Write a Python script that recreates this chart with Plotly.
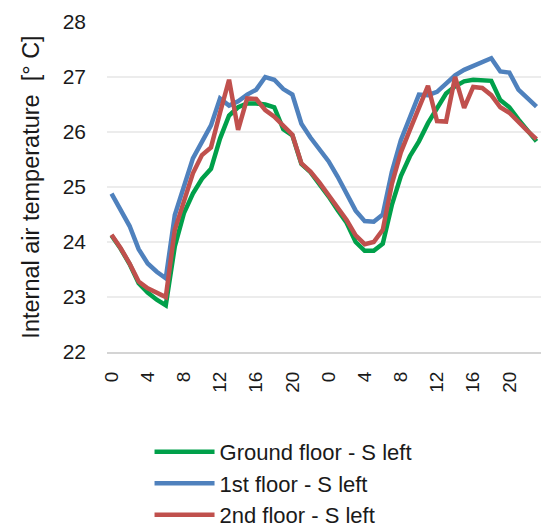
import plotly.graph_objects as go

# Hour of day for two consecutive days (hourly readings)
hours = list(range(24)) * 2

# Internal air temperature [°C] per floor, south-left zone
ground_floor = [24.12, 23.88, 23.60, 23.25, 23.08, 22.95, 22.85, 23.92, 24.52, 24.88,
                25.15, 25.33, 25.88, 26.30, 26.45, 26.52, 26.52, 26.50, 26.45, 26.05,
                25.94, 25.42, 25.27, 25.06, 24.83, 24.58, 24.35, 24.00, 23.84, 23.84,
                23.97, 24.67, 25.20, 25.56, 25.83, 26.16, 26.45, 26.70, 26.83, 26.92,
                26.95, 26.95, 26.93, 26.58, 26.45, 26.23, 26.04, 25.83]
first_floor = [24.88, 24.59, 24.29, 23.87, 23.61, 23.46, 23.34, 24.49, 25.04, 25.52,
               25.82, 26.12, 26.61, 26.48, 26.56, 26.68, 26.77, 27.00, 26.95, 26.78,
               26.68, 26.15, 25.90, 25.70, 25.47, 25.19, 24.87, 24.57, 24.38, 24.37,
               24.50, 25.27, 25.85, 26.25, 26.68, 26.67, 26.73, 26.88, 27.03, 27.13,
               27.20, 27.27, 27.34, 27.10, 27.08, 26.77, 26.62, 26.46]
second_floor = [24.13, 23.89, 23.61, 23.28, 23.16, 23.09, 23.00, 24.22, 24.76, 25.25,
                25.58, 25.72, 26.35, 26.95, 26.04, 26.61, 26.60, 26.40, 26.28, 26.10,
                25.95, 25.43, 25.28, 25.08, 24.85, 24.62, 24.40, 24.12, 23.96, 24.00,
                24.22, 25.05, 25.63, 26.04, 26.43, 26.84, 26.20, 26.19, 27.00, 26.44,
                26.82, 26.80, 26.67, 26.45, 26.35, 26.18, 26.02, 25.87]

series_names = ["Ground floor - S left", "1st floor - S left", "2nd floor - S left"]
series_values = [ground_floor, first_floor, second_floor]
series_colors = ["#00a04a", "#4f81bd", "#c0504d"]

y_ticks = [22, 23, 24, 25, 26, 27, 28]

x = list(range(len(hours)))
tick_idx = [i for i, h in enumerate(hours) if h % 4 == 0]
tick_txt = [str(hours[i]) for i in tick_idx]

FONT = "Arial, Liberation Sans, sans-serif"

fig = go.Figure()
for name, vals, col in zip(series_names, series_values, series_colors):
    fig.add_trace(go.Scatter(
        x=x, y=vals, name=name, mode="lines",
        line=dict(color=col, width=4.5),
    ))

fig.update_layout(
    width=541, height=529,
    margin=dict(l=107, r=0, t=22, b=177, autoexpand=False),
    paper_bgcolor="white", plot_bgcolor="white",
    font=dict(family=FONT, color="#1a1a1a"),
    showlegend=True,
    legend=dict(
        orientation="v", x=0.098, xanchor="left", y=-0.239, yanchor="top",
        font=dict(size=22, family=FONT, color="#1a1a1a"),
        itemwidth=60, tracegroupgap=0, bgcolor="rgba(0,0,0,0)",
    ),
)
fig.update_xaxes(
    range=[-0.5, len(hours) - 0.5],
    tickmode="array", tickvals=tick_idx, ticktext=tick_txt,
    tickangle=-90, tickfont=dict(size=19, family=FONT, color="#1a1a1a"),
    showgrid=False, zeroline=False,
    showline=True, linecolor="#d4d4d4", linewidth=2,
    ticks="", ticklabelstandoff=10,
)
fig.update_yaxes(
    range=[22, 28], tickmode="array", tickvals=y_ticks,
    tickfont=dict(size=21, family=FONT, color="#1a1a1a"),
    showgrid=True, gridcolor="#ececec", gridwidth=2,
    zeroline=False, showline=False, ticks="", ticklabelstandoff=20,
    title=dict(text="Internal air temperature\u00a0\u00a0[°\u00a0C]",
               font=dict(size=23.5, family=FONT, color="#1a1a1a"), standoff=16),
)

fig.write_html("out.html")
